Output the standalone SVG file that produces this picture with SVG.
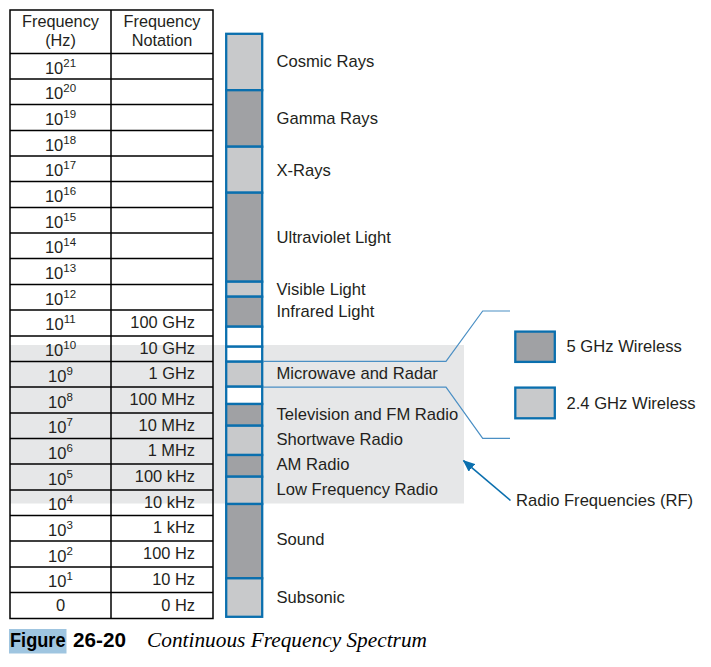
<svg xmlns="http://www.w3.org/2000/svg" width="711" height="667" viewBox="0 0 711 667">
<defs>
<style>
text{font-family:"Liberation Sans",Arial,sans-serif;fill:#231f20}
.hd{font-size:16.3px;text-anchor:middle}
.pw{font-size:16.5px;text-anchor:middle}
.sup{font-size:11.5px}
.nt{font-size:16.4px;text-anchor:end}
.lb{font-size:16.6px}
.grid{stroke:#000;stroke-width:1.5;fill:none}
.seg{stroke:#0a6fae;stroke-width:2.3}
.lt{fill:#c8c9cb}
.dk{fill:#a0a1a4}
.wh{fill:#ffffff}
.conn{fill:none;stroke:#4a8fc4;stroke-width:1.2}
</style>
<marker id="ah" markerWidth="12" markerHeight="10" refX="11" refY="5" orient="auto" markerUnits="userSpaceOnUse">
<path d="M0,0 L12,5 L0,10 Z" fill="#0a6fae"/>
</marker>
</defs>
<rect width="711" height="667" fill="#fff"/>
<rect id="rf-band" x="10" y="345" width="454" height="158.5" fill="#e6e7e8"/>

<g id="table">
<rect class="grid" x="10" y="10" width="203" height="608.5"/>
<line class="grid" x1="111" y1="10" x2="111" y2="618.5"/>
<path class="grid" d="M10 53.5H213M10 79H213M10 104.5H213M10 130.5H213M10 156H213M10 181.5H213M10 207.5H213M10 233H213M10 258.5H213M10 284.5H213M10 310H213M10 336H213M10 361.5H213M10 387H213M10 413H213M10 438.5H213M10 464H213M10 490H213M10 515.5H213M10 541H213M10 567H213M10 592.5H213"/>
<text class="hd" x="60.5" y="27">Frequency</text>
<text class="hd" x="60.5" y="46">(Hz)</text>
<text class="hd" x="162" y="27">Frequency</text>
<text class="hd" x="162" y="46">Notation</text>
<text class="pw" x="60.5" y="73.6">10<tspan class="sup" dy="-7">21</tspan></text>
<text class="pw" x="60.5" y="99.3">10<tspan class="sup" dy="-7">20</tspan></text>
<text class="pw" x="60.5" y="125">10<tspan class="sup" dy="-7">19</tspan></text>
<text class="pw" x="60.5" y="150.7">10<tspan class="sup" dy="-7">18</tspan></text>
<text class="pw" x="60.5" y="176.4">10<tspan class="sup" dy="-7">17</tspan></text>
<text class="pw" x="60.5" y="202">10<tspan class="sup" dy="-7">16</tspan></text>
<text class="pw" x="60.5" y="227.7">10<tspan class="sup" dy="-7">15</tspan></text>
<text class="pw" x="60.5" y="253.4">10<tspan class="sup" dy="-7">14</tspan></text>
<text class="pw" x="60.5" y="279.1">10<tspan class="sup" dy="-7">13</tspan></text>
<text class="pw" x="60.5" y="304.8">10<tspan class="sup" dy="-7">12</tspan></text>
<text class="pw" x="60.5" y="330.4">10<tspan class="sup" dy="-7">11</tspan></text>
<text class="pw" x="60.5" y="356.1">10<tspan class="sup" dy="-7">10</tspan></text>
<text class="pw" x="60.5" y="381.8">10<tspan class="sup" dy="-7">9</tspan></text>
<text class="pw" x="60.5" y="407.5">10<tspan class="sup" dy="-7">8</tspan></text>
<text class="pw" x="60.5" y="433.2">10<tspan class="sup" dy="-7">7</tspan></text>
<text class="pw" x="60.5" y="458.8">10<tspan class="sup" dy="-7">6</tspan></text>
<text class="pw" x="60.5" y="484.5">10<tspan class="sup" dy="-7">5</tspan></text>
<text class="pw" x="60.5" y="510.2">10<tspan class="sup" dy="-7">4</tspan></text>
<text class="pw" x="60.5" y="535.9">10<tspan class="sup" dy="-7">3</tspan></text>
<text class="pw" x="60.5" y="561.6">10<tspan class="sup" dy="-7">2</tspan></text>
<text class="pw" x="60.5" y="587.2">10<tspan class="sup" dy="-7">1</tspan></text>
<text class="pw" x="60.5" y="611">0</text>
<text class="nt" x="195" y="328">100 GHz</text>
<text class="nt" x="195" y="353.6">10 GHz</text>
<text class="nt" x="195" y="379.3">1 GHz</text>
<text class="nt" x="195" y="405">100 MHz</text>
<text class="nt" x="195" y="430.7">10 MHz</text>
<text class="nt" x="195" y="456.3">1 MHz</text>
<text class="nt" x="195" y="482">100 kHz</text>
<text class="nt" x="195" y="507.7">10 kHz</text>
<text class="nt" x="195" y="533.4">1 kHz</text>
<text class="nt" x="195" y="559">100 Hz</text>
<text class="nt" x="195" y="584.7">10 Hz</text>
<text class="nt" x="195" y="611">0 Hz</text>
</g>

<g id="spectrum-bar">
<rect class="seg lt" x="226.2" y="33.8" width="36" height="56.4"/>
<rect class="seg dk" x="226.2" y="90.2" width="36" height="56.5"/>
<rect class="seg lt" x="226.2" y="146.7" width="36" height="46"/>
<rect class="seg dk" x="226.2" y="192.7" width="36" height="89"/>
<rect class="seg lt" x="226.2" y="281.7" width="36" height="15"/>
<rect class="seg dk" x="226.2" y="296.7" width="36" height="30"/>
<rect class="seg wh" x="226.2" y="326.7" width="36" height="20"/>
<rect class="seg wh" x="226.2" y="346.7" width="36" height="15"/>
<rect class="seg lt" x="226.2" y="361.7" width="36" height="25"/>
<rect class="seg wh" x="226.2" y="386.7" width="36" height="17.3"/>
<rect class="seg dk" x="226.2" y="404" width="36" height="21.7"/>
<rect class="seg lt" x="226.2" y="425.7" width="36" height="29.3"/>
<rect class="seg dk" x="226.2" y="455" width="36" height="21.7"/>
<rect class="seg lt" x="226.2" y="476.7" width="36" height="27.3"/>
<rect class="seg dk" x="226.2" y="504" width="36" height="74.3"/>
<rect class="seg lt" x="226.2" y="578.3" width="36" height="38.5"/>
</g>

<g id="labels">
<text class="lb" x="276.5" y="66.7">Cosmic Rays</text>
<text class="lb" x="276.5" y="123.5">Gamma Rays</text>
<text class="lb" x="276.5" y="175.7">X-Rays</text>
<text class="lb" x="276.5" y="242.5">Ultraviolet Light</text>
<text class="lb" x="276.5" y="295">Visible Light</text>
<text class="lb" x="276.5" y="316.7">Infrared Light</text>
<text class="lb" x="276.5" y="378.5">Microwave and Radar</text>
<text class="lb" x="276.5" y="419.5">Television and FM Radio</text>
<text class="lb" x="276.5" y="444.5">Shortwave Radio</text>
<text class="lb" x="276.5" y="469.5">AM Radio</text>
<text class="lb" x="276.5" y="494.5">Low Frequency Radio</text>
<text class="lb" x="276.5" y="544.5">Sound</text>
<text class="lb" x="276.5" y="602.5">Subsonic</text>
</g>

<g id="connectors">
<path class="conn" d="M263 361.3H446L482.7 311H510"/>
<path class="conn" d="M263 387.2H446L482.7 438.3H510"/>
<line x1="510.5" y1="500.5" x2="463.5" y2="460.7" stroke="#0a6fae" stroke-width="1.6" marker-end="url(#ah)"/>
</g>

<g id="legend-5ghz">
<rect class="seg dk" x="515.3" y="331.6" width="39.5" height="30.3"/>
<text class="lb" x="566.5" y="352">5 GHz Wireless</text>
</g>
<g id="legend-24ghz">
<rect class="seg lt" x="515.3" y="387.6" width="39.5" height="30.7"/>
<text class="lb" x="566.5" y="408.5">2.4 GHz Wireless</text>
</g>
<g id="rf-label">
<text class="lb" x="516" y="506">Radio Frequencies (RF)</text>
</g>

<g id="caption">
<rect x="9" y="629" width="57.5" height="24.5" fill="#9fc5e0"/>
<text x="10" y="646.7" font-size="19.5" font-weight="bold" textLength="55.5" lengthAdjust="spacingAndGlyphs" style="fill:#000">Figure</text>
<text x="73" y="646.7" font-size="19.5" font-weight="bold" textLength="53" lengthAdjust="spacingAndGlyphs" style="fill:#000">26-20</text>
<text x="147" y="646.7" font-size="20" font-style="italic" textLength="280" lengthAdjust="spacingAndGlyphs" style="font-family:'Liberation Serif','Times New Roman',serif;fill:#000">Continuous Frequency Spectrum</text>
</g>
</svg>
